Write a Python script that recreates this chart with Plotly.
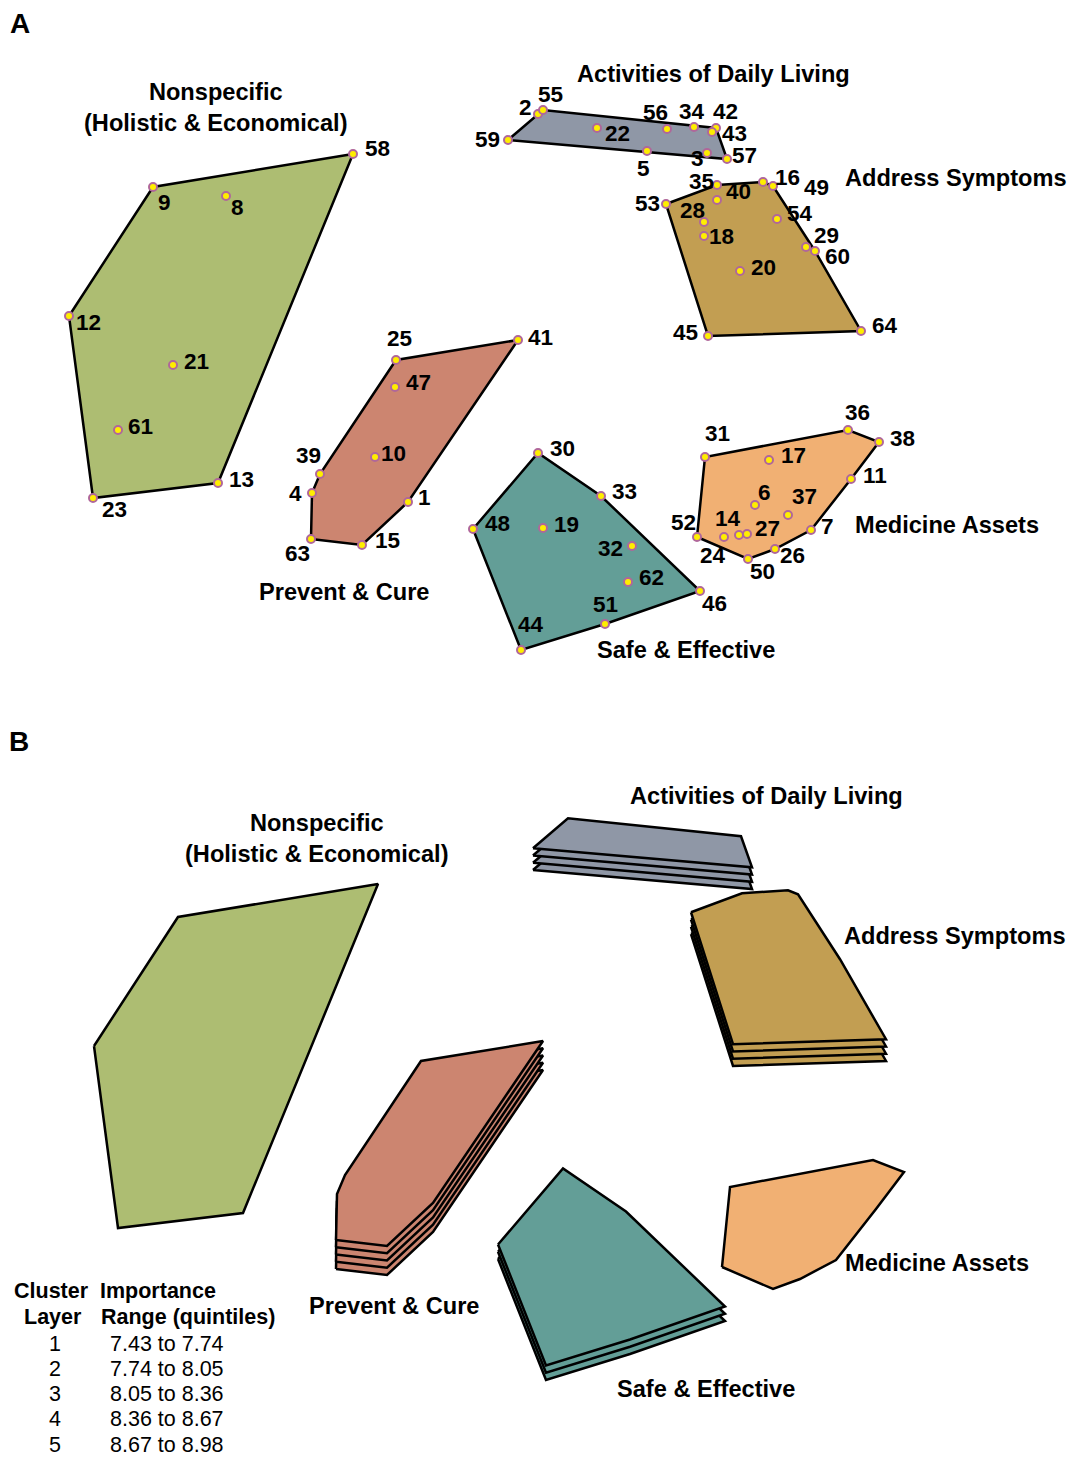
import plotly.graph_objects as go

# ---- concept-map data -------------------------------------------------------
cluster_names = [
    "Nonspecific<br>(Holistic & Economical)",
    "Activities of Daily Living",
    "Address Symptoms",
    "Prevent & Cure",
    "Safe & Effective",
    "Medicine Assets",
]
cluster_colors = ["#adbd72", "#8f97a6", "#c29e52", "#cc8570", "#639e97", "#f1b073"]
# rating layer (importance quintile) of each cluster
cluster_layers = [1, 4, 4, 5, 3, 1]

# statement id, map coordinates and cluster membership
stmt_id = [9, 8, 58, 12, 21, 61, 13, 23,
           2, 55, 59, 22, 56, 34, 42, 43, 5, 3, 57,
           35, 40, 16, 49, 53, 28, 18, 54, 29, 60, 20, 45, 64,
           25, 41, 47, 10, 39, 4, 1, 63, 15,
           30, 33, 48, 19, 32, 62, 51, 44, 46,
           31, 36, 38, 17, 11, 6, 37, 52, 24, 14, 27, 7, 50, 26]
stmt_x = [153, 226, 353, 69, 173, 118, 218, 93,
          538, 543, 508, 597, 667, 694, 716, 712, 647, 707, 727,
          717, 717, 763, 773, 666, 704, 704, 777, 806, 815, 740, 708, 861,
          396, 518, 395, 375, 320, 312, 408, 311, 362,
          538, 601, 473, 543, 632, 628, 605, 521, 700,
          705, 848, 879, 769, 851, 755, 788, 697, 724, 739, 747, 811, 748, 775]
stmt_y = [187, 196, 154, 316, 365, 430, 483, 498,
          114, 110, 140, 128, 129, 127, 128, 132, 151, 153, 159,
          185, 200, 182, 186, 204, 222, 236, 219, 247, 251, 271, 336, 331,
          360, 340, 387, 457, 474, 493, 502, 539, 545,
          453, 496, 529, 528, 546, 582, 624, 650, 591,
          457, 430, 442, 460, 479, 505, 515, 537, 537, 535, 534, 530, 559, 549]
stmt_cluster = [0] * 8 + [1] * 11 + [2] * 13 + [3] * 9 + [4] * 9 + [5] * 14

quintile_layer = ["1", "2", "3", "4", "5"]
quintile_range = ["7.43 to 7.74", "7.74 to 8.05", "8.05 to 8.36",
                  "8.36 to 8.67", "8.67 to 8.98"]

# ---- label placement (pixel offsets from each point) ------------------------
label_offset = {
    9: (11, 15), 8: (11, 11), 58: (24, -6), 12: (19, 6), 21: (23, -4),
    61: (22, -4), 13: (23, -4), 23: (21, 11),
    2: (-13, -7), 55: (7, -16), 59: (-21, -1), 22: (20, 5), 56: (-12, -17),
    34: (-2, -16), 42: (9, -17), 43: (22, 1), 5: (-4, 17), 3: (-10, 5),
    57: (17, -4),
    35: (-16, -4), 40: (21, -9), 16: (24, -5), 49: (43, 1), 53: (-19, -1),
    28: (-12, -12), 18: (17, 0), 54: (23, -6), 29: (20, -12), 60: (22, 5),
    20: (23, -4), 45: (-23, -4), 64: (24, -6),
    25: (3, -22), 41: (22, -3), 47: (23, -5), 10: (18, -4), 39: (-12, -19),
    4: (-17, 0), 1: (16, -5), 63: (-14, 14), 15: (25, -5),
    30: (24, -5), 33: (23, -5), 48: (24, -6), 19: (23, -4), 32: (-22, 2),
    62: (23, -5), 51: (0, -20), 44: (10, -26), 46: (14, 12),
    31: (12, -24), 36: (9, -18), 38: (23, -4), 17: (24, -5), 11: (24, -4),
    6: (9, -13), 37: (16, -19), 52: (-14, -15), 24: (-11, 18), 14: (-11, -17),
    27: (20, -6), 7: (16, -4), 50: (14, 12), 26: (17, 6),
}
# cluster name positions (pixels) in panel A and panel B
name_pos_a = [(216, 107), (713, 74), (956, 178), (344, 592), (686, 650), (947, 525)]
name_pos_b = [(317, 838), (766, 796), (955, 936), (394, 1306), (706, 1389), (937, 1263)]

W, H = 1075, 1457
SPLIT = 730          # pixel row where panel B starts
LAYER_STEP = 7.25    # vertical offset between stacked rating layers
FONT = "Liberation Sans, Arial, sans-serif"


def convex_hull(pts):
    pts = sorted(set(pts))
    if len(pts) < 3:
        return pts

    def cross(o, a, b):
        return (a[0] - o[0]) * (b[1] - o[1]) - (a[1] - o[1]) * (b[0] - o[0])

    lower, upper = [], []
    for p in pts:
        while len(lower) >= 2 and cross(lower[-2], lower[-1], p) <= 0:
            lower.pop()
        lower.append(p)
    for p in reversed(pts):
        while len(upper) >= 2 and cross(upper[-2], upper[-1], p) <= 0:
            upper.pop()
        upper.append(p)
    return lower[:-1] + upper[:-1]


def paper(px, py):
    return px / W, 1 - py / H


fig = go.Figure()

hulls = []
for c in range(len(cluster_names)):
    pts = [(x, y) for x, y, k in zip(stmt_x, stmt_y, stmt_cluster) if k == c]
    hull = convex_hull(pts)
    hull.append(hull[0])
    hulls.append(hull)

# ---- panel A: point cluster map ---------------------------------------------
for c, hull in enumerate(hulls):
    fig.add_trace(go.Scatter(
        x=[p[0] for p in hull], y=[p[1] for p in hull],
        mode="lines", fill="toself", fillcolor=cluster_colors[c],
        line=dict(color="black", width=2.5),
        xaxis="x", yaxis="y", hoverinfo="skip", showlegend=False))

fig.add_trace(go.Scatter(
    x=stmt_x, y=stmt_y, mode="markers",
    marker=dict(size=8, color="#ffee00", line=dict(color="#b0679a", width=2)),
    xaxis="x", yaxis="y", text=[str(i) for i in stmt_id],
    hoverinfo="text", showlegend=False))

annotations = []
for sid, x, y in zip(stmt_id, stmt_x, stmt_y):
    dx, dy = label_offset[sid]
    annotations.append(dict(
        x=x, y=y, xref="x", yref="y", xshift=dx, yshift=-dy,
        text=f"<b>{sid}</b>", showarrow=False,
        font=dict(family=FONT, size=22.5, color="black")))

# ---- panel B: cluster rating map (stacked layers) ---------------------------
for c, hull in enumerate(hulls):
    for layer in range(cluster_layers[c]):
        off = layer * LAYER_STEP
        fig.add_trace(go.Scatter(
            x=[p[0] for p in hull], y=[p[1] - off for p in hull],
            mode="lines", fill="toself", fillcolor=cluster_colors[c],
            line=dict(color="black", width=2.5),
            xaxis="x2", yaxis="y2", hoverinfo="skip", showlegend=False))

# ---- cluster names ---------------------------------------------------------
for c, name in enumerate(cluster_names):
    for pos in (name_pos_a[c], name_pos_b[c]):
        px_, py_ = paper(*pos)
        annotations.append(dict(
            x=px_, y=py_, xref="paper", yref="paper", text=f"<b>{name}</b>",
            showarrow=False, xanchor="center", yanchor="middle",
            font=dict(family=FONT, size=23.6, color="black")))

# ---- panel letters ---------------------------------------------------------
for letter, pos in (("A", (20, 24)), ("B", (19, 741))):
    px_, py_ = paper(*pos)
    annotations.append(dict(
        x=px_, y=py_, xref="paper", yref="paper", text=f"<b>{letter}</b>",
        showarrow=False, xanchor="center", yanchor="middle",
        font=dict(family=FONT, size=28, color="black")))

# ---- layer key -------------------------------------------------------------
key_font = dict(family=FONT, size=21.5, color="black")
for text, pos in (("<b>Cluster</b>", (51, 1291)), ("<b>Layer</b>", (53, 1317))):
    px_, py_ = paper(*pos)
    annotations.append(dict(x=px_, y=py_, xref="paper", yref="paper", text=text,
                            showarrow=False, xanchor="center", yanchor="middle",
                            font=key_font))
for text, pos in (("<b>Importance</b>", (98, 1291)),
                  ("<b>Range (quintiles)</b>", (99, 1317))):
    px_, py_ = paper(*pos)
    annotations.append(dict(x=px_, y=py_, xref="paper", yref="paper", text=text,
                            showarrow=False, xanchor="left", yanchor="middle",
                            font=key_font))
row_y = [1344, 1369, 1394, 1419, 1445]
for lay, rng, ry in zip(quintile_layer, quintile_range, row_y):
    px_, py_ = paper(55, ry)
    annotations.append(dict(x=px_, y=py_, xref="paper", yref="paper", text=lay,
                            showarrow=False, xanchor="center", yanchor="middle",
                            font=key_font))
    px_, py_ = paper(108, ry)
    annotations.append(dict(x=px_, y=py_, xref="paper", yref="paper", text=rng,
                            showarrow=False, xanchor="left", yanchor="middle",
                            font=key_font))

hidden = dict(visible=False, showgrid=False, zeroline=False, fixedrange=True)
split_frac = 1 - SPLIT / H
fig.update_layout(
    width=W, height=H, autosize=False,
    margin=dict(l=0, r=0, t=0, b=0, pad=0),
    paper_bgcolor="white", plot_bgcolor="white",
    xaxis=dict(range=[0, W], domain=[0, 1], **hidden),
    yaxis=dict(range=[SPLIT, 0], domain=[split_frac, 1], **hidden),
    xaxis2=dict(range=[-25, W - 25], domain=[0, 1], anchor="y2", **hidden),
    yaxis2=dict(range=[H - SPLIT, 0], domain=[0, split_frac], anchor="x2", **hidden),
    annotations=annotations,
    showlegend=False,
)

fig.write_html("out.html")
